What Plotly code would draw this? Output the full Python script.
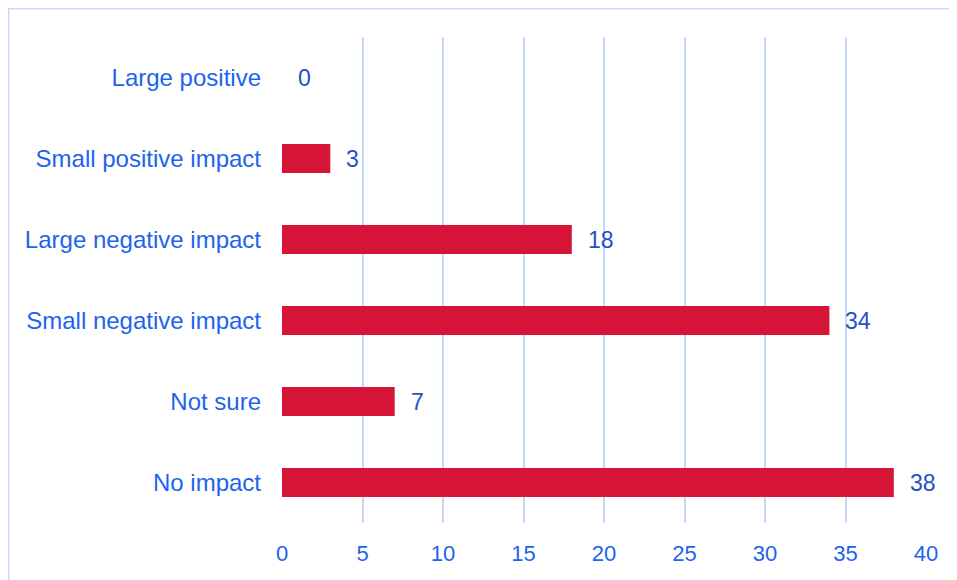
import plotly.graph_objects as go

categories = ["No impact", "Not sure", "Small negative impact",
              "Large negative impact", "Small positive impact", "Large positive"]
values = [38, 7, 34, 18, 3, 0]
tick_vals = [0, 5, 10, 15, 20, 25, 30, 35, 40]

# page offset of 8px (default body margin) is compensated by shrinking the figure
OFF = 8
W, H = 957 - OFF, 580 - OFF
L, R, T, B = 282 - OFF, 31, 37 - OFF, 57
pw, ph = W - L - R, H - T - B

def px_x(p):
    return (p - L) / pw

def px_y(p):
    return (H - B - p) / ph

FONT = "Liberation Sans, Arial, sans-serif"
BAR = "#D51438"
CAT_BLUE = "#1E63EE"
VAL_BLUE = "#1F50C8"
GRID = "#C4D7F6"

fig = go.Figure()
fig.add_trace(go.Bar(
    x=values, y=categories, orientation="h",
    marker=dict(color=BAR, line=dict(width=0)),
    hoverinfo="skip",
))

for v, c in zip(values, categories):
    fig.add_annotation(x=v, y=c, text=str(v), showarrow=False,
                       xanchor="left", xshift=14,
                       font=dict(family=FONT, size=23, color=VAL_BLUE))

border = "#C9DBF7"
fig.add_shape(type="line", xref="paper", yref="paper",
              x0=px_x(0), x1=px_x(W + 5), y0=px_y(0), y1=px_y(0),
              line=dict(color=border, width=3))
fig.add_shape(type="line", xref="paper", yref="paper",
              x0=px_x(0), x1=px_x(0), y0=px_y(0), y1=px_y(H + 5),
              line=dict(color=border, width=3))

fig.update_layout(
    width=W, height=H,
    margin=dict(l=L, r=R, t=T, b=B, pad=0),
    paper_bgcolor="white", plot_bgcolor="white",
    bargap=0.64,
    showlegend=False,
    xaxis=dict(range=[0, 40], tickvals=tick_vals, showgrid=True,
               gridcolor=GRID, gridwidth=2, zeroline=False,
               showline=False, ticks="", ticklabelstandoff=15,
               tickfont=dict(family=FONT, size=22, color=CAT_BLUE)),
    yaxis=dict(categoryorder="array", categoryarray=categories,
               showgrid=False, zeroline=False, showline=False, ticks="",
               ticklabelstandoff=20,
               tickfont=dict(family=FONT, size=24, color=CAT_BLUE)),
)

fig.write_html("out.html")
